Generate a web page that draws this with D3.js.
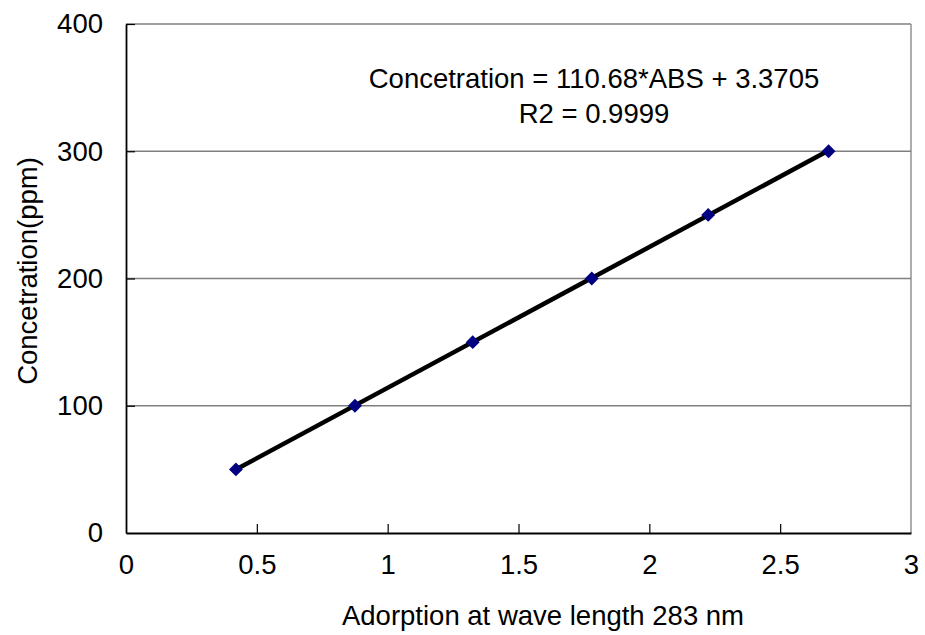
<!DOCTYPE html>
<html>
<head>
<meta charset="utf-8">
<script src="https://cdn.jsdelivr.net/npm/d3@7"></script>
<style>
  body { margin: 0; background: #fff; }
  text { font-family: 'Liberation Sans', Arial, sans-serif; fill: #000; }
</style>
</head>
<body>
<div id="app"></div>
<script>
// data
const absorbance = [0.42, 0.875, 1.325, 1.78, 2.225, 2.685];
const concentration = [50, 100, 150, 200, 250, 300];
const slope = 110.68;
const intercept = 3.3705;
const xTicks = [0, 0.5, 1, 1.5, 2, 2.5, 3];
const yTicks = [0, 100, 200, 300, 400];
const equationLines = ['Concetration = 110.68*ABS + 3.3705', 'R2 = 0.9999'];

const containerWidth = 925;
const containerHeight = 635;
const margin = { top: 24, right: 14, bottom: 102, left: 126 };
const width = containerWidth - margin.left - margin.right;
const height = containerHeight - margin.top - margin.bottom;
const fontSize = 27.5;

const svg = d3.select('#app')
  .append('svg')
  .attr('width', containerWidth)
  .attr('height', containerHeight);

const bounds = svg.append('g')
  .attr('transform', `translate(${margin.left},${margin.top})`);

const xScale = d3.scaleLinear().domain([0, 3]).range([0, width]);
const yScale = d3.scaleLinear().domain([0, 400]).range([height, 0]);

// gridlines
bounds.append('g')
  .selectAll('line')
  .data(yTicks.filter(d => d > 0))
  .enter()
  .append('line')
  .attr('x1', 0)
  .attr('x2', width)
  .attr('y1', d => yScale(d))
  .attr('y2', d => yScale(d))
  .attr('stroke', '#808080')
  .attr('stroke-width', 1.3);

// right border
bounds.append('line')
  .attr('x1', width).attr('x2', width)
  .attr('y1', 0).attr('y2', height)
  .attr('stroke', '#808080')
  .attr('stroke-width', 1.3);

// axes
const xAxis = bounds.append('g')
  .attr('transform', `translate(0,${height})`)
  .call(d3.axisBottom(xScale).tickValues(xTicks).tickSize(-9).tickPadding(21).tickSizeOuter(0)
    .tickFormat(d3.format('')));
const yAxis = bounds.append('g')
  .call(d3.axisLeft(yScale).tickValues(yTicks).tickSize(-9).tickPadding(23).tickSizeOuter(0));

[xAxis, yAxis].forEach(a => {
  a.select('.domain').attr('stroke', '#000').attr('stroke-width', 1.8);
  a.selectAll('.tick line').attr('stroke', '#000').attr('stroke-width', 1.2);
  a.selectAll('.tick text').attr('font-size', fontSize).attr('font-family', "'Liberation Sans', Arial, sans-serif");
});
xAxis.selectAll('.tick').filter(d => d === 0 || d === 3).select('line').remove();
yAxis.selectAll('.tick').filter(d => d === 0).select('line').remove();

// regression line
const xExtent = d3.extent(absorbance);
bounds.append('line')
  .attr('x1', xScale(xExtent[0]))
  .attr('y1', yScale(slope * xExtent[0] + intercept))
  .attr('x2', xScale(xExtent[1]))
  .attr('y2', yScale(slope * xExtent[1] + intercept))
  .attr('stroke', '#000')
  .attr('stroke-width', 4.5);

// points
const diamond = d3.symbol().type(d3.symbolSquare).size(96);
bounds.append('g')
  .selectAll('path')
  .data(absorbance)
  .enter()
  .append('path')
  .attr('d', diamond)
  .attr('transform', (d, i) => `translate(${xScale(d)},${yScale(concentration[i])}) rotate(45)`)
  .attr('fill', '#000080');

// equation
bounds.append('g')
  .selectAll('text')
  .data(equationLines)
  .enter()
  .append('text')
  .attr('x', 594 - margin.left)
  .attr('y', (d, i) => 88 - margin.top + i * 35)
  .attr('text-anchor', 'middle')
  .attr('font-size', fontSize)
  .text(d => d);

// axis labels
svg.append('text')
  .attr('x', 543)
  .attr('y', 625)
  .attr('text-anchor', 'middle')
  .attr('font-size', fontSize)
  .text('Adorption at wave length 283 nm');

svg.append('text')
  .attr('transform', 'translate(37,271) rotate(-90)')
  .attr('text-anchor', 'middle')
  .attr('font-size', fontSize)
  .text('Concetration(ppm)');
</script>
</body>
</html>
